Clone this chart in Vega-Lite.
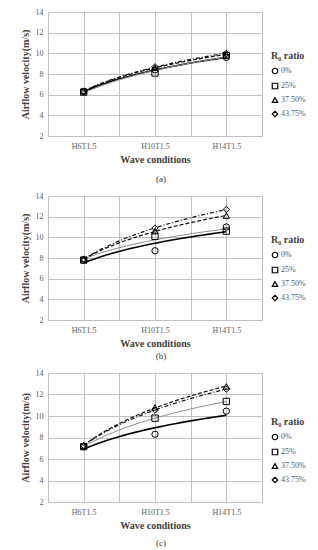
{
  "$schema": "https://vega.github.io/schema/vega-lite/v6.json",
  "padding": {"left": 20, "top": 8, "right": 0, "bottom": 0},
  "spacing": 8,
  "datasets": {
    "d": [
      {"p": "a", "x": 1, "r": "0%", "v": 6.3},
      {"p": "a", "x": 2, "r": "0%", "v": 8.4},
      {"p": "a", "x": 3, "r": "0%", "v": 9.6},
      {"p": "a", "x": 1, "r": "25%", "v": 6.25},
      {"p": "a", "x": 2, "r": "25%", "v": 8.1},
      {"p": "a", "x": 3, "r": "25%", "v": 9.8},
      {"p": "a", "x": 1, "r": "37.50%", "v": 6.35},
      {"p": "a", "x": 2, "r": "37.50%", "v": 8.6},
      {"p": "a", "x": 3, "r": "37.50%", "v": 9.9},
      {"p": "a", "x": 1, "r": "43.75%", "v": 6.35},
      {"p": "a", "x": 2, "r": "43.75%", "v": 8.7},
      {"p": "a", "x": 3, "r": "43.75%", "v": 10.0},
      {"p": "b", "x": 1, "r": "0%", "v": 7.8},
      {"p": "b", "x": 2, "r": "0%", "v": 8.7},
      {"p": "b", "x": 3, "r": "0%", "v": 11.0},
      {"p": "b", "x": 1, "r": "25%", "v": 7.8},
      {"p": "b", "x": 2, "r": "25%", "v": 10.1},
      {"p": "b", "x": 3, "r": "25%", "v": 10.6},
      {"p": "b", "x": 1, "r": "37.50%", "v": 7.9},
      {"p": "b", "x": 2, "r": "37.50%", "v": 10.6},
      {"p": "b", "x": 3, "r": "37.50%", "v": 12.1},
      {"p": "b", "x": 1, "r": "43.75%", "v": 7.9},
      {"p": "b", "x": 2, "r": "43.75%", "v": 10.9},
      {"p": "b", "x": 3, "r": "43.75%", "v": 12.7},
      {"p": "c", "x": 1, "r": "0%", "v": 7.15},
      {"p": "c", "x": 2, "r": "0%", "v": 8.3},
      {"p": "c", "x": 3, "r": "0%", "v": 10.45},
      {"p": "c", "x": 1, "r": "25%", "v": 7.15},
      {"p": "c", "x": 2, "r": "25%", "v": 9.8},
      {"p": "c", "x": 3, "r": "25%", "v": 11.35},
      {"p": "c", "x": 1, "r": "37.50%", "v": 7.25},
      {"p": "c", "x": 2, "r": "37.50%", "v": 10.8},
      {"p": "c", "x": 3, "r": "37.50%", "v": 12.75},
      {"p": "c", "x": 1, "r": "43.75%", "v": 7.25},
      {"p": "c", "x": 2, "r": "43.75%", "v": 10.55},
      {"p": "c", "x": 3, "r": "43.75%", "v": 12.5}
    ]
  },
  "config": {
    "font": "Liberation Serif",
    "view": {"stroke": null},
    "axis": {
      "labelFont": "Liberation Serif", "labelFontSize": 8, "labelColor": "#595959",
      "titleFont": "Liberation Serif", "titleFontSize": 10, "titleFontWeight": "bold", "titleColor": "#404040",
      "gridColor": "#c0c0c0", "gridWidth": 1, "ticks": false, "domain": false
    },
    "legend": {
      "titleFont": "Liberation Serif", "titleFontSize": 10, "titleFontWeight": "bold", "titleColor": "#404040",
      "labelFont": "Liberation Serif", "labelFontSize": 8, "labelColor": "#595959",
      "symbolSize": 30, "symbolStrokeWidth": 1.2,
      "rowPadding": 3, "labelOffset": 2, "titlePadding": 6
    },
    "title": {"font": "Liberation Serif", "fontSize": 9, "fontWeight": "normal", "color": "#333333", "orient": "bottom", "dx": 6}
  },
  "resolve": {"scale": {"x": "independent", "y": "independent", "shape": "independent"}, "legend": {"shape": "independent"}},
  "vconcat": [
    {
      "title": {"text": "(a)", "offset": 11},
      "width": 214, "height": 124,
      "data": {"name": "d"},
      "transform": [{"filter": "datum.p == 'a'"}],
      "encoding": {
        "x": {"field": "x", "type": "quantitative", "scale": {"domain": [0.5, 3.5], "nice": false, "zero": false},
              "axis": {"title": "Wave conditions", "values": [0.5, 1, 1.5, 2, 2.5, 3, 3.5], "labelExpr": "datum.value == 1 ? 'H6T1.5' : datum.value == 2 ? 'H10T1.5' : datum.value == 3 ? 'H14T1.5' : ''", "labelOverlap": false, "labelFlush": false, "labelPadding": 6, "titlePadding": 4}},
        "y": {"field": "v", "type": "quantitative", "scale": {"domain": [2, 14], "nice": false, "zero": false},
              "axis": {"title": "Airflow velocity(m/s)", "values": [2, 4, 6, 8, 10, 12, 14], "labelPadding": 5, "titlePadding": 5}}
      },
      "layer": [
        {"transform": [{"filter": "datum.r == '0%'"}, {"regression": "v", "on": "x", "method": "log", "extent": [1, 3]}],
         "mark": {"type": "line", "color": "#000000", "strokeWidth": 1.6}, "encoding": {}},
        {"transform": [{"filter": "datum.r == '25%'"}, {"regression": "v", "on": "x", "method": "log", "extent": [1, 3]}],
         "mark": {"type": "line", "color": "#8c8c8c", "strokeWidth": 1}, "encoding": {}},
        {"transform": [{"filter": "datum.r == '37.50%'"}, {"regression": "v", "on": "x", "method": "log", "extent": [1, 3]}],
         "mark": {"type": "line", "color": "#111111", "strokeWidth": 1.2, "strokeDash": [4, 2]}, "encoding": {}},
        {"transform": [{"filter": "datum.r == '43.75%'"}, {"regression": "v", "on": "x", "method": "log", "extent": [1, 3]}],
         "mark": {"type": "line", "color": "#111111", "strokeWidth": 1.2, "strokeDash": [4, 2, 1, 2]}, "encoding": {}},
        {
          "mark": {"type": "point", "filled": false, "color": "black", "strokeWidth": 1, "size": 40, "opacity": 1},
          "encoding": {
            "shape": {"field": "r", "type": "nominal", "title": "R₀ ratio", "scale": {"domain": ["0%", "25%", "37.50%", "43.75%"], "range": ["circle", "square", "triangle-up", "diamond"]},
                      "legend": {"orient": "none", "legendX": 223, "legendY": 39}}
          }
        }
      ]
    },
    {
      "title": {"text": "(b)", "offset": 4},
      "width": 214, "height": 124,
      "data": {"name": "d"},
      "transform": [{"filter": "datum.p == 'b'"}],
      "encoding": {
        "x": {"field": "x", "type": "quantitative", "scale": {"domain": [0.5, 3.5], "nice": false, "zero": false},
              "axis": {"title": "Wave conditions", "values": [0.5, 1, 1.5, 2, 2.5, 3, 3.5], "labelExpr": "datum.value == 1 ? 'H6T1.5' : datum.value == 2 ? 'H10T1.5' : datum.value == 3 ? 'H14T1.5' : ''", "labelOverlap": false, "labelFlush": false, "labelPadding": 6, "titlePadding": 4}},
        "y": {"field": "v", "type": "quantitative", "scale": {"domain": [2, 14], "nice": false, "zero": false},
              "axis": {"title": "Airflow velocity(m/s)", "values": [2, 4, 6, 8, 10, 12, 14], "labelPadding": 5, "titlePadding": 5}}
      },
      "layer": [
        {"transform": [{"filter": "datum.r == '0%'"}, {"regression": "v", "on": "x", "method": "log", "extent": [1, 3]}],
         "mark": {"type": "line", "color": "#000000", "strokeWidth": 1.6}, "encoding": {}},
        {"transform": [{"filter": "datum.r == '25%'"}, {"regression": "v", "on": "x", "method": "log", "extent": [1, 3]}],
         "mark": {"type": "line", "color": "#8c8c8c", "strokeWidth": 1}, "encoding": {}},
        {"transform": [{"filter": "datum.r == '37.50%'"}, {"regression": "v", "on": "x", "method": "log", "extent": [1, 3]}],
         "mark": {"type": "line", "color": "#111111", "strokeWidth": 1.2, "strokeDash": [4, 2]}, "encoding": {}},
        {"transform": [{"filter": "datum.r == '43.75%'"}, {"regression": "v", "on": "x", "method": "log", "extent": [1, 3]}],
         "mark": {"type": "line", "color": "#111111", "strokeWidth": 1.2, "strokeDash": [4, 2, 1, 2]}, "encoding": {}},
        {
          "mark": {"type": "point", "filled": false, "color": "black", "strokeWidth": 1, "size": 40, "opacity": 1},
          "encoding": {
            "shape": {"field": "r", "type": "nominal", "title": "R₀ ratio", "scale": {"domain": ["0%", "25%", "37.50%", "43.75%"], "range": ["circle", "square", "triangle-up", "diamond"]},
                      "legend": {"orient": "none", "legendX": 223, "legendY": 39}}
          }
        }
      ]
    },
    {
      "title": {"text": "(c)", "offset": 9},
      "width": 214, "height": 129,
      "data": {"name": "d"},
      "transform": [{"filter": "datum.p == 'c'"}],
      "encoding": {
        "x": {"field": "x", "type": "quantitative", "scale": {"domain": [0.5, 3.5], "nice": false, "zero": false},
              "axis": {"title": "Wave conditions", "values": [0.5, 1, 1.5, 2, 2.5, 3, 3.5], "labelExpr": "datum.value == 1 ? 'H6T1.5' : datum.value == 2 ? 'H10T1.5' : datum.value == 3 ? 'H14T1.5' : ''", "labelOverlap": false, "labelFlush": false, "labelPadding": 6, "titlePadding": 4}},
        "y": {"field": "v", "type": "quantitative", "scale": {"domain": [2, 14], "nice": false, "zero": false},
              "axis": {"title": "Airflow velocity(m/s)", "values": [2, 4, 6, 8, 10, 12, 14], "labelPadding": 5, "titlePadding": 5}}
      },
      "layer": [
        {"transform": [{"filter": "datum.r == '0%'"}, {"regression": "v", "on": "x", "method": "log", "extent": [1, 3]}],
         "mark": {"type": "line", "color": "#000000", "strokeWidth": 1.6}, "encoding": {}},
        {"transform": [{"filter": "datum.r == '25%'"}, {"regression": "v", "on": "x", "method": "log", "extent": [1, 3]}],
         "mark": {"type": "line", "color": "#8c8c8c", "strokeWidth": 1}, "encoding": {}},
        {"transform": [{"filter": "datum.r == '37.50%'"}, {"regression": "v", "on": "x", "method": "log", "extent": [1, 3]}],
         "mark": {"type": "line", "color": "#111111", "strokeWidth": 1.2, "strokeDash": [4, 2]}, "encoding": {}},
        {"transform": [{"filter": "datum.r == '43.75%'"}, {"regression": "v", "on": "x", "method": "log", "extent": [1, 3]}],
         "mark": {"type": "line", "color": "#111111", "strokeWidth": 1.2, "strokeDash": [4, 2, 1, 2]}, "encoding": {}},
        {
          "mark": {"type": "point", "filled": false, "color": "black", "strokeWidth": 1, "size": 40, "opacity": 1},
          "encoding": {
            "shape": {"field": "r", "type": "nominal", "title": "R₀ ratio", "scale": {"domain": ["0%", "25%", "37.50%", "43.75%"], "range": ["circle", "square", "triangle-up", "diamond"]},
                      "legend": {"orient": "none", "legendX": 223, "legendY": 44}}
          }
        }
      ]
    }
  ]
}
